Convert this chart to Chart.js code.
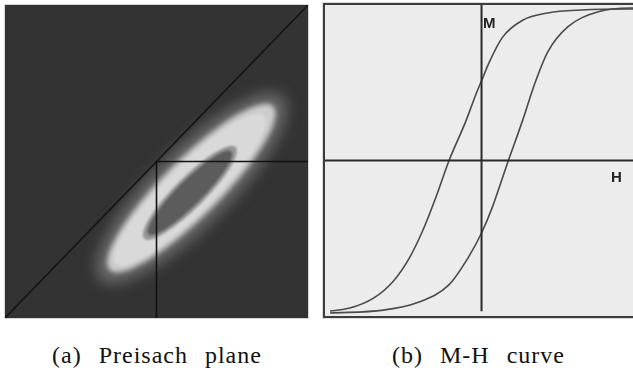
<!DOCTYPE html>
<html>
<head>
<meta charset="utf-8">
<script src="https://cdn.jsdelivr.net/npm/chart.js@4.4.0/dist/chart.umd.min.js"></script>
<style>
  html, body { margin:0; padding:0; background:#fff; overflow:hidden; width:633px; height:371px; }
  #frameA { position:absolute; left:4px; top:4px; width:303px; height:313px; border:1px solid #d6d6d6; background:#333; }
  #frameB { position:absolute; left:323px; top:3px; width:340px; height:311px; border:2px solid #3c3c3c; border-right:none; background:#ececec; box-shadow:0 0 0 1px #dcdcdc; }
  .box { position:absolute; }
  .cap { position:absolute; font-family:"Liberation Serif", "DejaVu Serif", serif; font-size:24px; color:#111; white-space:nowrap; letter-spacing:1px; word-spacing:10px; }
  .lbl { position:absolute; font-family:"Liberation Sans", Arial, sans-serif; font-weight:bold; font-size:15px; color:#222; line-height:1; }
</style>
</head>
<body>
<div id="frameA"><div class="box" style="left:0;top:0;width:303px;height:313px"><canvas id="plane"></canvas></div></div>
<div id="frameB"></div>
<div class="box" style="left:325px;top:5px;width:314px;height:311px"><canvas id="curve"></canvas></div>
<div class="lbl" style="left:483px;top:15px">M</div>
<div class="lbl" style="left:611px;top:169px">H</div>
<div class="cap" style="left:52px;top:342px">(a) Preisach plane</div>
<div class="cap" style="left:392px;top:342px">(b) M-H curve</div>
<script>
// ---- (a) Preisach plane: alpha (x) / beta (y), both -1..1
const diagAlpha = [-1, 1];
const diagBeta = [-1, 1];
const crossAlpha = [0, 0, 1];
const crossBeta = [-1, 0, 0];

const layerAlpha = [0.23, 0.23, 0.22, 0.22, 0.22];
const layerBeta = [-0.17, -0.17, -0.18, -0.20, -0.20];
const layerMajor = [0.84, 0.75, 0.68, 0.42, 0.38];
const layerMinor = [0.25, 0.185, 0.155, 0.10, 0.08];
const layerDensity = [0.30, 0.86, 0.93, 0.55, 0.23];

// ---- (b) M-H curve
const upperH = [-0.968, -0.842, -0.691, -0.565, -0.464, -0.375, -0.293, -0.211, -0.104, -0.041, 0.0, 0.041, 0.129, 0.256, 0.42, 0.634, 0.95, 1.0];
const upperM = [-0.968, -0.949, -0.885, -0.776, -0.629, -0.445, -0.235, -0.003, 0.25, 0.42, 0.52, 0.62, 0.79, 0.90, 0.949, 0.968, 0.974, 0.974];
const lowerH = [-0.968, -0.628, -0.42, -0.211, -0.085, 0.0, 0.066, 0.167, 0.256, 0.338, 0.42, 0.546, 0.735, 0.95, 1.0];
const lowerM = [-0.981, -0.962, -0.917, -0.80, -0.62, -0.46, -0.30, -0.003, 0.25, 0.50, 0.70, 0.859, 0.955, 0.981, 0.981];
const hAxisH = [-1.1, 1.1];
const hAxisM = [0, 0];
const mAxisH = [-0.003, -0.003];
const mAxisM = [-0.97, 1.05];

const pts = (xs, ys) => xs.map((x, i) => ({x: x, y: ys[i]}));

const densityPlugin = {
  id: 'density',
  beforeDatasetsDraw(chart) {
    const ctx = chart.ctx, xs = chart.scales.x, ys = chart.scales.y, a = chart.chartArea;
    const unit = ((xs.getPixelForValue(1) - xs.getPixelForValue(0)) + (ys.getPixelForValue(0) - ys.getPixelForValue(1))) / 2;
    const blur = [7, 2.5, 1.5, 1.2, 1];
    ctx.save();
    ctx.beginPath();
    ctx.rect(a.left, a.top, a.right - a.left, a.bottom - a.top);
    ctx.clip();
    layerDensity.forEach((d, i) => {
      const g = Math.round(51 + d * 179);
      ctx.filter = 'blur(' + blur[i] + 'px)';
      ctx.fillStyle = 'rgb(' + g + ',' + g + ',' + g + ')';
      ctx.beginPath();
      ctx.ellipse(xs.getPixelForValue(layerAlpha[i]), ys.getPixelForValue(layerBeta[i]),
        layerMajor[i] * unit, layerMinor[i] * unit, -Math.PI / 4, 0, Math.PI * 2);
      ctx.fill();
    });
    ctx.restore();
  }
};

const baseOpts = {
  responsive: true,
  maintainAspectRatio: false,
  animation: false,
  events: [],
  layout: { padding: 0 },
  plugins: { legend: { display: false }, tooltip: { enabled: false } },
  elements: { point: { radius: 0 } },
  scales: {
    x: { type: 'linear', min: -1, max: 1, display: false },
    y: { type: 'linear', min: -1, max: 1, display: false }
  }
};

new Chart(document.getElementById('plane'), {
  type: 'scatter',
  data: {
    datasets: [
      { data: pts(diagAlpha, diagBeta), showLine: true, borderColor: '#161616', borderWidth: 1.6 },
      { data: pts(crossAlpha, crossBeta), showLine: true, borderColor: '#111', borderWidth: 1.6 }
    ]
  },
  options: baseOpts,
  plugins: [densityPlugin]
});

new Chart(document.getElementById('curve'), {
  type: 'scatter',
  data: {
    datasets: [
      { data: pts(hAxisH, hAxisM), showLine: true, borderColor: '#2a2a2a', borderWidth: 2 },
      { data: pts(mAxisH, mAxisM), showLine: true, borderColor: '#2a2a2a', borderWidth: 2 },
      { data: pts(upperH, upperM), showLine: true, borderColor: '#4a4a4a', borderWidth: 1.6, cubicInterpolationMode: 'monotone' },
      { data: pts(lowerH, lowerM), showLine: true, borderColor: '#4a4a4a', borderWidth: 1.6, cubicInterpolationMode: 'monotone' }
    ]
  },
  options: baseOpts
});
</script>
</body>
</html>
